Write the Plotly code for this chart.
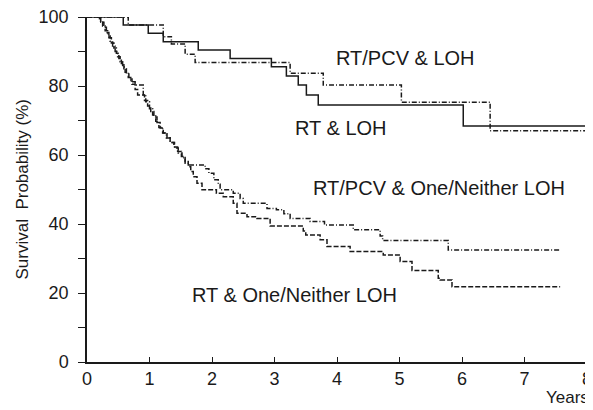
import plotly.graph_objects as go

# ---- data (time in years, survival %) ----
rt_loh_t = [0, 0.58, 0.98, 1.22, 1.78, 2.29, 2.95, 3.19, 3.38, 3.51, 3.70, 6.02, 7.97]
rt_loh_s = [100, 97.7, 95.3, 92.8, 90.4, 88.0, 85.6, 82.9, 80.3, 77.4, 74.5, 68.4, 68.4]

pcv_loh_t = [0, 0.66, 1.22, 1.35, 1.57, 1.73, 3.25, 3.78, 5.03, 6.45, 7.97]
pcv_loh_s = [100, 97.7, 94.3, 92.2, 89.2, 86.8, 83.7, 80.3, 75.3, 67.0, 67.0]

rt_one_t = [0, 0.22, 0.27, 0.31, 0.35, 0.39, 0.43, 0.47, 0.51, 0.55, 0.59, 0.63, 0.67,
            0.72, 0.77, 0.81, 0.92, 0.97, 1.02, 1.07, 1.12, 1.17, 1.22, 1.28, 1.33,
            1.39, 1.45, 1.51, 1.57, 1.62, 1.66, 1.70, 1.76, 1.84, 2.07, 2.18, 2.34,
            2.40, 2.56, 2.72, 2.93, 3.46, 3.50, 3.73, 3.84, 4.21, 4.74, 5.01, 5.20,
            5.62, 5.65, 5.84, 7.57]
rt_one_s = [100, 98.5, 97, 95.5, 94, 92.5, 91, 89.5, 88, 86.5, 85, 83.5, 82,
            80.5, 79, 77.4, 75.8, 74.2, 72.6, 71.0, 69.4, 67.8, 66.4, 65.0, 63.6,
            62.3, 61.0, 59.6, 58.1, 56.6, 55.2, 53.7, 51.8, 49.9, 48.9, 47.9, 46.0,
            43.1, 42.1, 41.6, 39.4, 38.0, 36.8, 35.4, 33.5, 32.0, 31.0, 29.1, 26.5,
            24.3, 23.8, 21.8, 21.8]

pcv_one_t = [0, 0.20, 0.25, 0.29, 0.33, 0.37, 0.41, 0.45, 0.49, 0.53, 0.57, 0.61,
             0.66, 0.70, 0.77, 0.90, 0.94, 1.00, 1.05, 1.10, 1.15, 1.21, 1.27, 1.33,
             1.40, 1.46, 1.52, 1.57, 1.62, 1.89, 1.95, 2.03, 2.10, 2.13, 2.34, 2.45,
             2.50, 2.88, 3.03, 3.15, 3.25, 3.57, 3.80, 4.26, 4.69, 4.73, 5.78, 7.57]
pcv_one_s = [100, 98.8, 97.4, 96, 94.5, 93, 91.5, 90, 88.5, 87, 85.5, 84,
             82.5, 81.2, 80.3, 77.5, 75.4, 73.4, 71.6, 69.8, 68.0, 66.4, 64.9, 63.6,
             62.0, 60.6, 59.2, 57.6, 57.1, 56.0, 54.7, 52.8, 51.5, 49.9, 48.9, 47.4,
             46.0, 44.5, 44.1, 43.0, 41.6, 40.7, 39.7, 38.3, 36.5, 35.2, 32.5, 32.5]

x_ticks = [0, 1, 2, 3, 4, 5, 6, 7, 8]
y_ticks = [0, 10, 20, 30, 40, 50, 60, 70, 80, 90, 100]
y_tick_text = ["0", "", "20", "", "40", "", "60", "", "80", "", "100"]

labels = ["RT/PCV & LOH", "RT & LOH", "RT/PCV & One/Neither LOH", "RT & One/Neither LOH"]

FONT = "Liberation Sans, Arial, sans-serif"
INK = "#1a1a1a"

fig = go.Figure()
series = [
    (rt_loh_t, rt_loh_s, "solid"),
    (pcv_loh_t, pcv_loh_s, "5px,2px,1px,2px"),
    (rt_one_t, rt_one_s, "5px,2px"),
    (pcv_one_t, pcv_one_s, "5px,2px,1px,2px"),
]
for t, s, dash in series:
    fig.add_trace(go.Scatter(x=t, y=s, mode="lines", line_shape="hv",
                             line=dict(color=INK, width=1.5, dash=dash),
                             cliponaxis=False, showlegend=False, hoverinfo="skip"))

# curve labels
ann_pos = [(5.10, 88.1), (4.06, 67.8), (5.63, 50.4), (3.32, 19.4)]
for txt, (ax, ay) in zip(labels, ann_pos):
    fig.add_annotation(x=ax, y=ay, text=txt, showarrow=False,
                       font=dict(family=FONT, size=20, color=INK),
                       xanchor="center", yanchor="middle")

fig.add_annotation(xref="paper", yref="paper", x=-0.13, y=0.5,
                   text="Survival  Probability (%)", textangle=-90, showarrow=False,
                   font=dict(family=FONT, size=17, color=INK),
                   xanchor="center", yanchor="middle")
fig.add_annotation(xref="paper", yref="paper", x=1.008, y=-0.104,
                   text="Years", showarrow=False,
                   font=dict(family=FONT, size=17, color=INK),
                   xanchor="right", yanchor="middle")

# page body has an 8px margin: shrink the figure so the plot lands where the reference has it
fig.update_layout(
    width=585, height=402,
    margin=dict(l=79, r=6, t=9, b=48, autoexpand=False),
    paper_bgcolor="white", plot_bgcolor="white",
    font=dict(family=FONT, size=16, color=INK),
    xaxis=dict(range=[0, 8], tickvals=x_ticks, ticks="inside", ticklen=5,
               tickcolor=INK, showline=True, linecolor=INK, linewidth=1.5,
               showgrid=False, zeroline=False, tickfont=dict(size=18),
               ticklabeloverflow="allow", automargin=False),
    yaxis=dict(range=[0, 100], tickvals=y_ticks, ticktext=y_tick_text,
               ticks="outside", ticklen=7, tickcolor=INK, showline=True,
               linecolor=INK, linewidth=1.5, showgrid=False, zeroline=False,
               tickfont=dict(size=18), ticklabelstandoff=6,
               ticklabeloverflow="allow", automargin=False),
)

fig.write_html("out.html")
